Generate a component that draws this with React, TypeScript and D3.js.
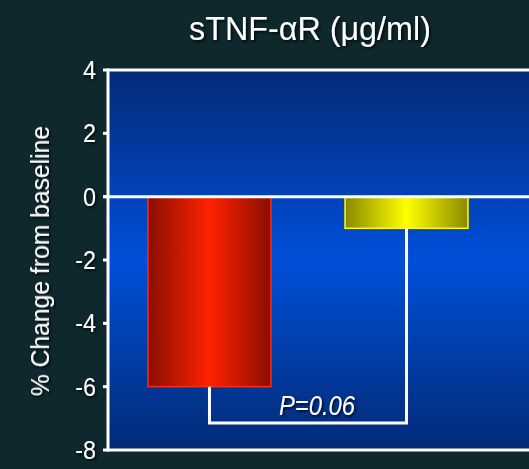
import React from 'react';
import * as d3 from 'd3';

const categories = ['Treatment', 'Control'];
const changes = [-6, -1];
const yTicks = [4, 2, 0, -2, -4, -6, -8];
const pLabel = 'P=0.06';
const bracketLevel = -7.15;
const title = 'sTNF-\u03b1R (\u03bcg/ml)';
const yTitle = '% Change from baseline';

const W = 529;
const H = 469;
const margin = { top: 70, left: 108, bottom: 19 };
const font = '"Liberation Sans", Arial, sans-serif';

const barGradients = [
    { id: 'gRed', edge: '#8a0e00', mid: '#ff2200', stroke: '#ff2a10' },
    { id: 'gYel', edge: '#8a8a00', mid: '#ffff00', stroke: '#ffff10' },
];

export default function App() {
    const y = d3.scaleLinear().domain([-8, 4]).range([H - margin.bottom, margin.top]);
    const x = d3.scaleBand<string>()
        .domain(categories)
        .range([margin.left, margin.left + 400])
        .paddingInner(0.376)
        .paddingOuter(0.203);

    const y0 = y(0);
    const cx = categories.map(c => (x(c) ?? 0) + x.bandwidth() / 2);
    const yb = y(bracketLevel);
    const bracket = d3.line()([
        [cx[0], y(changes[0])],
        [cx[0], yb],
        [cx[1], yb],
        [cx[1], y(changes[1])],
    ]) ?? '';

    return (
        <svg width={W} height={H} style={{ display: 'block', position: 'absolute', left: 0, top: 0 }}>
            <defs>
                <linearGradient id="bg" x1="0" y1="0" x2="0" y2="1">
                    <stop offset="0%" stopColor="#032a78" />
                    <stop offset="50%" stopColor="#004fd8" />
                    <stop offset="100%" stopColor="#032a76" />
                </linearGradient>
                {barGradients.map(g => (
                    <linearGradient key={g.id} id={g.id} x1="0" y1="0" x2="1" y2="0">
                        <stop offset="0%" stopColor={g.edge} />
                        <stop offset="50%" stopColor={g.mid} />
                        <stop offset="100%" stopColor={g.edge} />
                    </linearGradient>
                ))}
                <filter id="shadow" x="-10%" y="-10%" width="130%" height="130%">
                    <feDropShadow dx="1.5" dy="1.5" stdDeviation="0.8" floodColor="#000" floodOpacity="0.8" />
                </filter>
            </defs>

            <rect x={0} y={0} width={W} height={H} fill="#0e282d" />

            {/* plot area */}
            <rect x={margin.left} y={y(4)} width={W - margin.left + 10} height={y(-8) - y(4)} fill="url(#bg)" />

            {/* bars */}
            {categories.map((c, i) => (
                <rect
                    key={c}
                    x={x(c)}
                    y={y(Math.max(0, changes[i]))}
                    width={x.bandwidth()}
                    height={Math.abs(y(changes[i]) - y0)}
                    fill={`url(#${barGradients[i].id})`}
                    stroke={barGradients[i].stroke}
                    strokeWidth={1.5}
                />
            ))}

            {/* frame and zero line */}
            <g stroke="#ffffff" strokeWidth={3} fill="none">
                <line x1={margin.left} x2={W + 5} y1={y(4)} y2={y(4)} />
                <line x1={margin.left} x2={W + 5} y1={y(-8)} y2={y(-8)} />
                <line x1={margin.left - 5} x2={W + 5} y1={y0} y2={y0} />
                <line x1={margin.left} x2={margin.left} y1={y(4) - 1.5} y2={y(-8) + 1.5} />
                {yTicks.map(t => (
                    <line key={t} x1={margin.left - 5} x2={margin.left} y1={y(t)} y2={y(t)} />
                ))}
                <path d={bracket} />
            </g>

            <g filter="url(#shadow)" fill="#ffffff" fontFamily={font}>
                <text transform="translate(310, 40) scale(0.95, 1)" textAnchor="middle" fontSize={34}>{title}</text>
                {yTicks.map(t => (
                    <text key={t} transform={`translate(96, ${y(t) + 9}) scale(0.9, 1)`} textAnchor="end" fontSize={26}>{t}</text>
                ))}
                <text
                    transform={`translate(49, ${(y(4) + y(-8)) / 2 + 1}) rotate(-90) scale(0.95, 1)`}
                    textAnchor="middle"
                    fontSize={26}
                >
                    {yTitle}
                </text>
                <text
                    transform={`translate(${(cx[0] + cx[1]) / 2 + 9}, ${yb - 8}) scale(0.88, 1)`}
                    textAnchor="middle"
                    fontSize={27}
                    fontStyle="italic"
                >
                    {pLabel}
                </text>
            </g>
        </svg>
    );
}
